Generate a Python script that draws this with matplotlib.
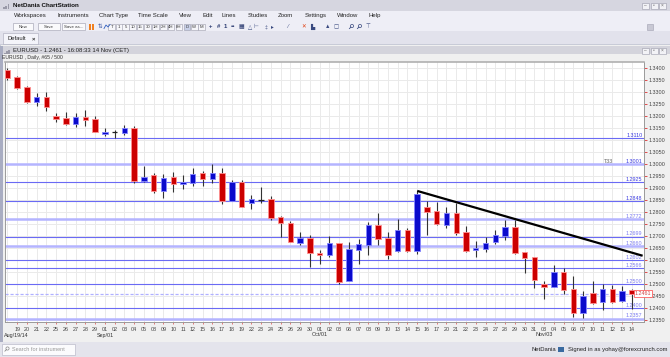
import numpy as np
import matplotlib
matplotlib.use('Agg')
import matplotlib.pyplot as plt
import matplotlib.transforms as mtransforms
from matplotlib.patches import Rectangle, Circle

plt.rcParams['font.family'] = ['Liberation Sans', 'DejaVu Sans']

# EUR/USD daily, 18 Aug - 14 Nov 2014
days = ['18', '19', '20', '21', '22', '25', '26', '27', '28', '29',
        '01', '02', '03', '04', '05', '08', '09', '10', '11', '12', '15', '16', '17', '18', '19',
        '22', '23', '24', '25', '26', '29', '30',
        '01', '02', '03', '06', '07', '08', '09', '10', '13', '14', '15', '16', '17', '20', '21',
        '22', '23', '24', '27', '28', '29', '30', '31',
        '03', '04', '05', '06', '07', '10', '11', '12', '13', '14']
opens = [1.3393, 1.3364, 1.3323, 1.3261, 1.3282, 1.3201, 1.3192, 1.3169, 1.3197, 1.3188,
         1.3127, 1.3134, 1.3132, 1.3151, 1.2930, 1.2955, 1.2890, 1.2946, 1.2919, 1.2921,
         1.2962, 1.2938, 1.2962, 1.2848, 1.2925, 1.2840, 1.2851, 1.2854, 1.2779, 1.2757,
         1.2673, 1.2693, 1.2632, 1.2621, 1.2671, 1.2514, 1.2643, 1.2664, 1.2746, 1.2692,
         1.2639, 1.2725, 1.2640, 1.2823, 1.2805, 1.2747, 1.2798, 1.2717, 1.2643, 1.2647,
         1.2678, 1.2701, 1.2740, 1.2636, 1.2613, 1.2501, 1.2490, 1.2553, 1.2479, 1.2379,
         1.2462, 1.2428, 1.2479, 1.2432, 1.2476]
highs = [1.3403, 1.3367, 1.3326, 1.3296, 1.3300, 1.3215, 1.3219, 1.3213, 1.3226, 1.3201,
         1.3150, 1.3143, 1.3164, 1.3160, 1.2993, 1.2962, 1.2960, 1.2967, 1.2955, 1.2983,
         1.2972, 1.3000, 1.2983, 1.2935, 1.2935, 1.2872, 1.2904, 1.2868, 1.2785, 1.2764,
         1.2718, 1.2704, 1.2643, 1.2701, 1.2671, 1.2678, 1.2688, 1.2758, 1.2796, 1.2719,
         1.2772, 1.2736, 1.2889, 1.2848, 1.2842, 1.2821, 1.2838, 1.2743, 1.2680, 1.2698,
         1.2726, 1.2768, 1.2768, 1.2636, 1.2613, 1.2514, 1.2580, 1.2567, 1.2535, 1.2473,
         1.2514, 1.2500, 1.2497, 1.2493, 1.2479]
lows = [1.3353, 1.3312, 1.3257, 1.3243, 1.3222, 1.3178, 1.3164, 1.3154, 1.3161, 1.3133,
        1.3119, 1.3111, 1.3122, 1.2921, 1.2926, 1.2882, 1.2858, 1.2886, 1.2897, 1.2910,
        1.2910, 1.2921, 1.2833, 1.2848, 1.2821, 1.2814, 1.2840, 1.2768, 1.2698, 1.2678,
        1.2664, 1.2571, 1.2583, 1.2615, 1.2500, 1.2514, 1.2583, 1.2622, 1.2664, 1.2604,
        1.2633, 1.2633, 1.2625, 1.2705, 1.2747, 1.2733, 1.2705, 1.2636, 1.2612, 1.2636,
        1.2667, 1.2685, 1.2625, 1.2546, 1.2486, 1.2438, 1.2490, 1.2458, 1.2365, 1.2358,
        1.2418, 1.2393, 1.2421, 1.2428, 1.2396]
closes = [1.3361, 1.3319, 1.3261, 1.3282, 1.3240, 1.3187, 1.3168, 1.3197, 1.3186, 1.3133,
          1.3136, 1.3134, 1.3151, 1.2930, 1.2948, 1.2890, 1.2944, 1.2918, 1.2926, 1.2960,
          1.2938, 1.2962, 1.2848, 1.2925, 1.2821, 1.2854, 1.2851, 1.2775, 1.2754, 1.2678,
          1.2693, 1.2629, 1.2621, 1.2671, 1.2508, 1.2646, 1.2668, 1.2746, 1.2688, 1.2622,
          1.2725, 1.2640, 1.2878, 1.2803, 1.2751, 1.2798, 1.2715, 1.2640, 1.2650, 1.2673,
          1.2705, 1.2740, 1.2632, 1.2611, 1.2518, 1.2490, 1.2553, 1.2476, 1.2382, 1.2451,
          1.2423, 1.2479, 1.2428, 1.2473, 1.2461]

month_idx = [1, 10, 32, 55]
month_labels = ['Aug/19/14', 'Sep/01', 'Oct/01', 'Nov/03']

levels = [1.3110, 1.3001, 1.2925, 1.2848, 1.2772, 1.2699, 1.2660, 1.2602, 1.2566, 1.2500, 1.2400, 1.2357]
level_light = [False, True, False, False, True, False, True, False, False, False, False, True]
last_price = 1.2461

# trend line drawn from the 15 Oct high
trend_x = [42, 65.1]
trend_y = [1.2889, 1.2619]

W, H = 670, 357
fig = plt.figure(figsize=(W / 100, H / 100), dpi=100)
fig.patch.set_facecolor('#ececf3')

# ---- window chrome ----
ui = fig.add_axes([0, 0, 1, 1])
ui.set_xlim(0, W)
ui.set_ylim(H, 0)
ui.axis('off')

def box(x, y, w, h, fc, ec='none', lw=0.5, z=1):
    ui.add_patch(Rectangle((x, y), w, h, facecolor=fc, edgecolor=ec, lw=lw, zorder=z))

def lens(cx, cy, col):
    ui.add_patch(Circle((cx, cy), 1.6, facecolor='none', edgecolor=col, lw=0.5, zorder=3))
    ui.plot([cx - 1.1, cx - 2.6], [cy + 1.1, cy + 2.6], color=col, lw=0.6, zorder=3)

box(0, 0, W, 11, '#d6d6e0')
box(0, 11, W, 20, '#eeeef6')
box(0, 31, W, 13, '#e2e2ec')
box(0, 44, W, 299, '#f0f0f0', '#b8bccc')
box(0, 46, W, 8, '#d4d4dc')
box(0, 342, W, 15, '#e4e4ec')
box(0, 46, 2.5, 296, '#a9adc2')

ui.text(13, 5.8, 'NetDania ChartStation', fontsize=4.5, fontweight='bold', va='center', color='#111111')
for k in range(3):
    box(3 + k * 2.3, 7 - k * 1.5, 1.6, 2 + k * 1.5, '#9a9aa8')
for y0 in (2.5, 47.5):
    for k, g in enumerate(['–', '▫', '×']):
        box(642 + k * 8.5, y0, 7, 6, '#f2f2f6', '#9a9aaa', 0.4)
        ui.text(645.5 + k * 8.5, y0 + 3, g, fontsize=3.5, ha='center', va='center', color='#666666')

menus = ['Workspaces', 'Instruments', 'Chart Type', 'Time Scale', 'View', 'Edit', 'Lines',
         'Studies', 'Zoom', 'Settings', 'Window', 'Help']
menu_x = [14, 57.3, 99.3, 138.3, 179, 202.3, 222, 247.7, 277.7, 304.3, 336.7, 368.3]
for name, mx in zip(menus, menu_x):
    ui.text(mx, 15.8, name, fontsize=4.3, va='center', color='#222222')

for name, bx, bw in [('New', 13.3, 20), ('Save', 38.3, 21.7), ('Save as...', 62.3, 22.7)]:
    box(bx, 23.3, bw, 6.5, '#fafafc', '#9a9aaa', 0.4)
    ui.text(bx + bw / 2, 26.6, name, fontsize=3.2, ha='center', va='center', color='#333333')

box(89, 23.5, 2.2, 6, '#f08020')
box(92, 23.5, 2.2, 6, '#f08020')
ui.text(100, 26.6, '⇅', fontsize=4, ha='center', va='center', color='#3050a0')
ui.plot([104, 106, 108, 110], [28.5, 25, 27, 24.5], color='#3060c0', lw=0.6)

scales = ['T', '1', '5', '10', '15', '30', '1H', '2H', '4H', '8H', 'D', 'W', 'M']
scale_x = [111.7, 119.3, 125.7, 132.7, 140, 147.7, 155.7, 163.3, 171, 179, 187, 194.3, 201.7]
for s, sx in zip(scales, scale_x):
    fc = '#c8d0e8' if s == 'D' else '#f6f6fa'
    box(sx - 3.3, 23.5, 6.6, 6.3, fc, '#9a9aaa', 0.4)
    ui.text(sx, 26.6, s, fontsize=3.1, ha='center', va='center', color='#333333')

for ix, g in zip([210.7, 218.3, 225.7, 233.3, 241], ['+', '#', '1', '••', '▦']):
    ui.text(ix, 26.6, g, fontsize=4.3, ha='center', va='center', color='#2a3a70', fontweight='bold')
for ix, g in zip([250, 256, 266, 272, 288, 304, 312, 328, 336, 368],
                 ['△', '⊢', '‡', '▸', '⁄', '✕', '▙', '▲', '▢', '⊤']):
    c = '#e04010' if g == '✕' else '#3a4a80'
    ui.text(ix, 26.6, g, fontsize=4, ha='center', va='center', color=c)
lens(352, 26, '#3a4a80')
lens(360, 26, '#3a4a80')
box(647, 23.5, 6, 6, '#c8c8d4', '#a0a0b0', 0.4)

box(3.3, 33.3, 35, 10.5, '#f4f4fa', '#a8a8b8', 0.4)
ui.text(7, 38.5, 'Default', fontsize=4.2, va='center', color='#222222')
ui.text(32, 38.5, '×', fontsize=4.2, va='center', color='#333333', fontweight='bold')

ui.text(13, 50.7, 'EURUSD - 1.2461 - 16:08:33 14 Nov (CET)', fontsize=4.3, va='center', color='#222222')
for k in range(3):
    box(4 + k * 2.2, 52.5 - k * 1.2, 1.5, 1.5 + k * 1.2, '#9a9aa8')
ui.text(2.5, 57.6, 'EURUSD , Daily, #65 / 500', fontsize=3.7, va='center', color='#333333')

box(2, 343.5, 73, 11.5, '#fbfbfd', '#b0b0c0', 0.4)
lens(7.5, 348.5, '#888888')
ui.text(12, 349.3, 'Search for instrument', fontsize=4, va='center', color='#9a9a9a')
ui.text(532, 349.7, 'NetDania', fontsize=4.2, va='center', color='#222222')
box(558, 346.5, 5.5, 5.5, '#3a6aa0')
ui.text(568, 349.7, 'Signed in as yohay@forexcrunch.com', fontsize=4.2, va='center', color='#222222')

# ---- chart ----
ax = fig.add_axes([5 / W, 1 - 322 / H, 639 / W, 260 / H])
ax.set_facecolor('white')
x = np.arange(len(days))
o = np.array(opens)
h = np.array(highs)
l = np.array(lows)
c = np.array(closes)

ax.set_xlim(-0.24, 65.24)
ax.set_ylim(1.2343, 1.3426)

yt = np.round(np.arange(1.2350, 1.34001, 0.005), 4)
for v in yt:
    ax.axhline(v, color='#eaeaea', lw=0.7, zorder=0)
for xi in x:
    ax.axvline(xi, color='#eaeaea', lw=0.7, zorder=0)

for lv, light in zip(levels, level_light):
    if light:
        ax.axhline(lv, color='#b4b4ff', lw=1.8, zorder=1)
    else:
        ax.axhline(lv, color='#6a6af4', lw=0.8, zorder=1)
ax.axhline(last_price, color='#b0b0ff', lw=0.9, ls=(0, (2.5, 1.5)), zorder=1)

ytrans = mtransforms.blended_transform_factory(ax.transAxes, ax.transData)
for lv in levels:
    col = '#3a3ae0' if lv > 1.283 else '#7c7cf0'
    ax.text(0.9975, lv + 0.0001, f'{lv:.4f}', transform=ytrans, ha='right', va='bottom',
            fontsize=3.9, color=col, zorder=2)
ax.text(0.944, 1.3001 + 0.0001, 'T33', transform=ytrans, ha='center', va='bottom',
        fontsize=3.9, color='#666666', zorder=2)

up = c >= o
ax.vlines(x, l, h, color='#333333', lw=0.8, zorder=3)
body = np.maximum(np.abs(c - o), 0.00025)
bottom = np.minimum(o, c)
doji = np.abs(c - o) < 0.0001
col_face = np.where(up, '#0a0acc', '#cc0000')
col_edge = np.where(up, '#8484ff', '#ff9090')
for xi, b, bh, fc, ec, d in zip(x, bottom, body, col_face, col_edge, doji):
    if d:
        ax.hlines(b, xi - 0.28, xi + 0.28, color='#222222', lw=0.9, zorder=4)
    else:
        ax.bar(xi, bh, bottom=b, width=0.56, color=fc, edgecolor=ec, lw=0.6, zorder=4)

ax.plot(trend_x, trend_y, color='black', lw=1.6, zorder=6, solid_capstyle='butt')

ax.text(0.9985, last_price, f'{last_price:.4f}', transform=ytrans, ha='center', va='center',
        fontsize=3.9, color='#d04040', zorder=7, clip_on=False,
        bbox=dict(boxstyle='square,pad=0.2', fc='white', ec='#ff6060', lw=0.6))

ax.yaxis.tick_right()
ax.set_yticks(yt)
ax.set_yticklabels([f'{v:.4f}' for v in yt])
ax.tick_params(axis='y', colors='#dd3333', labelcolor='#444444', length=2.5, width=0.6,
               pad=1, labelsize=3.9)
ax.set_xticks(x[1:])
ax.set_xticklabels(days[1:])
ax.tick_params(axis='x', colors='#dd4444', labelcolor='#444444', length=1.5, width=0.5,
               pad=2.2, labelsize=3.9)
for s in ax.spines.values():
    s.set_color('#9a9a9a')
    s.set_linewidth(0.7)
ax.spines['top'].set_color('#b0b0b0')
ax.spines['top'].set_linewidth(1.2)

xtrans = mtransforms.blended_transform_factory(ax.transData, ax.transAxes)
for mi, ml in zip(month_idx, month_labels):
    if mi == 1:
        ax.text(-0.3, -0.05, ml, transform=xtrans, ha='left', va='center', fontsize=3.9, color='#333333')
    else:
        ax.text(mi, -0.05, ml, transform=xtrans, ha='center', va='center', fontsize=3.9, color='#333333')

fig.savefig('out.png', dpi=100, facecolor=fig.get_facecolor())
